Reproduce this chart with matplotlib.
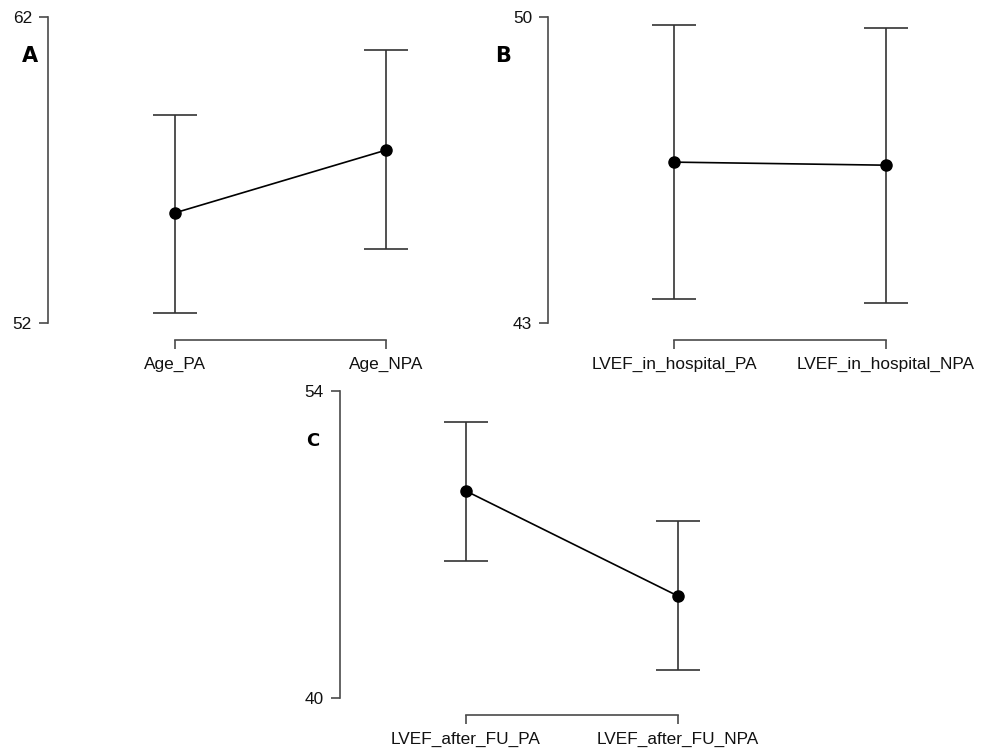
import matplotlib
matplotlib.use("Agg")
import matplotlib.pyplot as plt

plt.rcParams['font.family'] = ['Liberation Sans', 'DejaVu Sans']

# Data
labels_a = ["Age_PA", "Age_NPA"]
mean_a = [55.6, 57.65]
upper_a = [58.8, 60.92]
lower_a = [52.33, 54.42]
yticks_a = [52, 62]

labels_b = ["LVEF_in_hospital_PA", "LVEF_in_hospital_NPA"]
mean_b = [46.68, 46.61]
upper_b = [49.82, 49.75]
lower_b = [43.55, 43.46]
yticks_b = [43, 50]

labels_c = ["LVEF_after_FU_PA", "LVEF_after_FU_NPA"]
mean_c = [49.44, 44.65]
upper_c = [52.59, 48.07]
lower_c = [46.25, 41.28]
yticks_c = [40, 54]

W, H = 981, 754
fig = plt.figure(figsize=(W / 100, H / 100), dpi=100)
fig.patch.set_facecolor("white")

SPINE = "#4a4a4a"

def panel(L, R, top, bot, p0, p1, labels, mean, upper, lower, yticks, letter, lpos, lsize):
    ax = fig.add_axes([L / W, 1 - bot / H, (R - L) / W, (bot - top) / H])
    scale = p1 - p0
    ax.set_xlim(-(p0 - L) / scale, (R - p0) / scale)
    ax.set_ylim(yticks[0], yticks[1])
    x = [0, 1]
    yerr = [[m - lo for m, lo in zip(mean, lower)], [u - m for m, u in zip(mean, upper)]]
    ax.errorbar(x, mean, yerr=yerr, fmt="none", ecolor="#333333", elinewidth=1.2,
                capsize=15.5, capthick=1.2, clip_on=False)
    ax.plot(x, mean, color="black", lw=1.2, marker="o", markersize=8,
            markerfacecolor="black", markeredgecolor="black", clip_on=False, zorder=5)
    for s in ["top", "right"]:
        ax.spines[s].set_visible(False)
    ax.spines["left"].set_color(SPINE)
    ax.spines["bottom"].set_color(SPINE)
    ax.spines["left"].set_linewidth(1.2)
    ax.spines["bottom"].set_linewidth(1.2)
    ax.spines["bottom"].set_position(("outward", 12.2))
    ax.spines["bottom"].set_bounds(0, 1)
    ax.set_xticks(x)
    ax.set_xticklabels(labels, fontsize=12.4)
    ax.set_yticks(yticks)
    ax.set_yticklabels([str(v) for v in yticks], fontsize=12.4)
    ax.tick_params(axis="both", direction="out", length=6.5, width=1.2, color=SPINE,
                   labelcolor="#111111")
    ax.tick_params(axis="y", pad=5)
    ax.tick_params(axis="x", pad=6)
    ax.set_facecolor("none")
    fig.text(lpos[0] / W, 1 - lpos[1] / H, letter, fontsize=lsize, fontweight="bold",
             family="DejaVu Sans", ha="center", va="center", color="black")
    return ax

panel(48, 450, 17, 323, 175, 386, labels_a, mean_a, upper_a, lower_a, yticks_a, "A", (30, 56), 15)
panel(548, 960, 17, 323, 674, 886, labels_b, mean_b, upper_b, lower_b, yticks_b, "B", (503, 56), 15)
panel(340, 760, 391, 698, 466, 678, labels_c, mean_c, upper_c, lower_c, yticks_c, "C", (313, 441), 13)

fig.savefig("out.png", dpi=100, facecolor="white")
